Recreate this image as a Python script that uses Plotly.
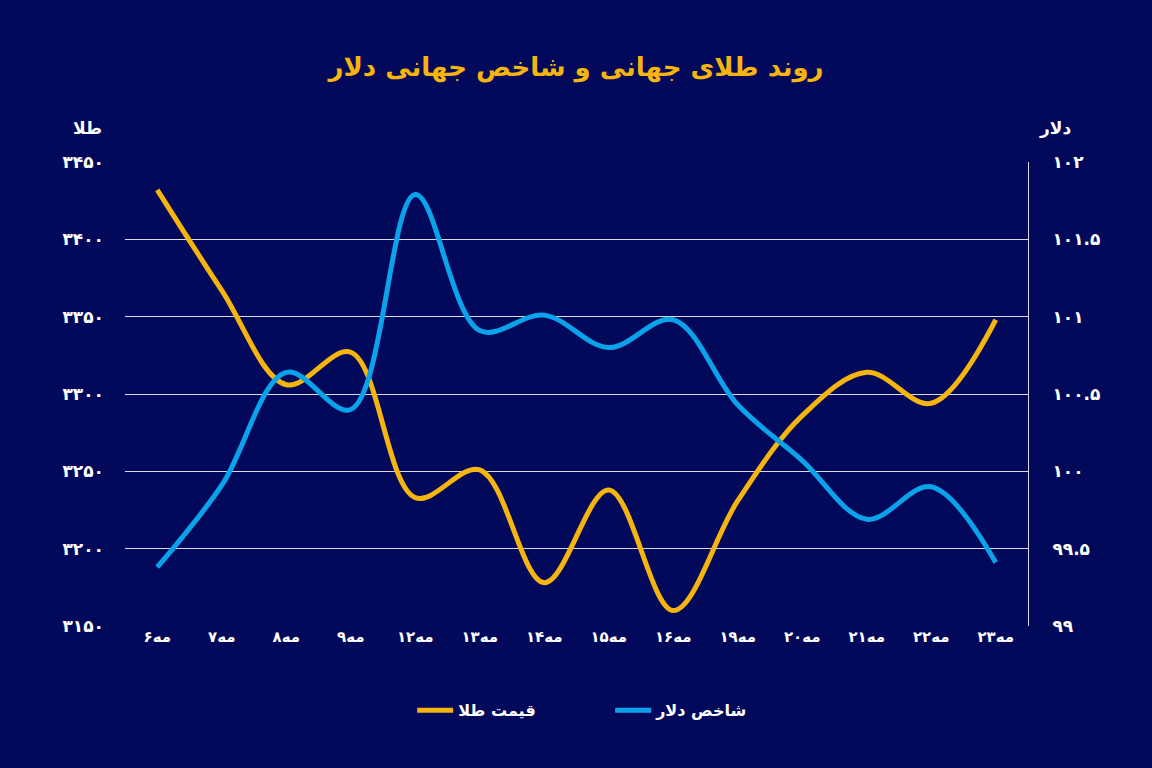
import plotly.graph_objects as go

def fa(s):
    return str(s).translate(str.maketrans("0123456789", "۰۱۲۳۴۵۶۷۸۹"))

days = ["6", "7", "8", "9", "12", "13", "14", "15", "16", "19", "20", "21", "22", "23"]
categories = ["مه" + fa(d) for d in days]
gold = [3432, 3367, 3306, 3327, 3233, 3251, 3178, 3238, 3160, 3231, 3286, 3314, 3294, 3348]
dollar = [99.38, 99.91, 100.64, 100.40, 101.79, 100.91, 101.01, 100.80, 100.98, 100.43, 100.07, 99.69, 99.90, 99.41]
gold_ticks = [3150, 3200, 3250, 3300, 3350, 3400, 3450]
dollar_ticks = [99, 99.5, 100, 100.5, 101, 101.5, 102]

BG = "#03095a"
GOLD = "#f6b40e"
BLUE = "#0aa2ea"
FONT = "DejaVu Sans"

def b(t):
    return "<b>" + t + "</b>"

fig = go.Figure()
fig.add_trace(go.Scatter(x=categories, y=gold, name=b("قیمت طلا"), mode="lines",
                         line=dict(color=GOLD, width=5, shape="spline", smoothing=1)))
fig.add_trace(go.Scatter(x=categories, y=dollar, name=b("شاخص دلار"), mode="lines", yaxis="y2",
                         line=dict(color=BLUE, width=5, shape="spline", smoothing=1)))

fig.update_layout(
    width=1152, height=768, paper_bgcolor=BG, plot_bgcolor=BG,
    margin=dict(l=125, r=124, t=162, b=142),
    font=dict(family=FONT, color="white", size=14),
    title=dict(text=b("روند طلای جهانی و شاخص جهانی دلار"), x=0.5, y=0.925,
               font=dict(size=26, color=GOLD, family=FONT)),
    xaxis=dict(showgrid=False, showline=False, ticks="", range=[-0.5, 13.5],
               tickvals=categories, ticktext=[b(c) for c in categories],
               tickfont=dict(size=15, color="white")),
    yaxis=dict(range=[3150, 3450], tickvals=gold_ticks, ticktext=[b(fa(v)) for v in gold_ticks],
               showgrid=True, gridcolor="rgba(255,255,255,0.85)", gridwidth=1, zeroline=False,
               tickfont=dict(size=17, color="white"), ticklabelstandoff=20),
    yaxis2=dict(range=[99, 102], overlaying="y", side="right", tickvals=dollar_ticks,
                ticktext=[b(fa(v)) for v in dollar_ticks], showgrid=False, zeroline=False,
                showline=True, linecolor="rgba(255,255,255,0.85)", linewidth=1,
                tickfont=dict(size=17, color="white"), ticklabelstandoff=20),
    legend=dict(orientation="h", x=0.318, xanchor="left", y=-0.145, yanchor="top",
                font=dict(size=16, color="white"), traceorder="normal", itemwidth=36,
                entrywidth=147),
    showlegend=True,
)
fig.add_annotation(text=b("طلا"), xref="paper", yref="paper", x=-0.06, y=1.1,
                   showarrow=False, font=dict(size=17, color="white"))
fig.add_annotation(text=b("دلار"), xref="paper", yref="paper", x=1.05, y=1.1,
                   showarrow=False, font=dict(size=17, color="white"))
fig.write_html("out.html", config={"displayModeBar": False},
               post_script="document.body.style.margin='0';")
